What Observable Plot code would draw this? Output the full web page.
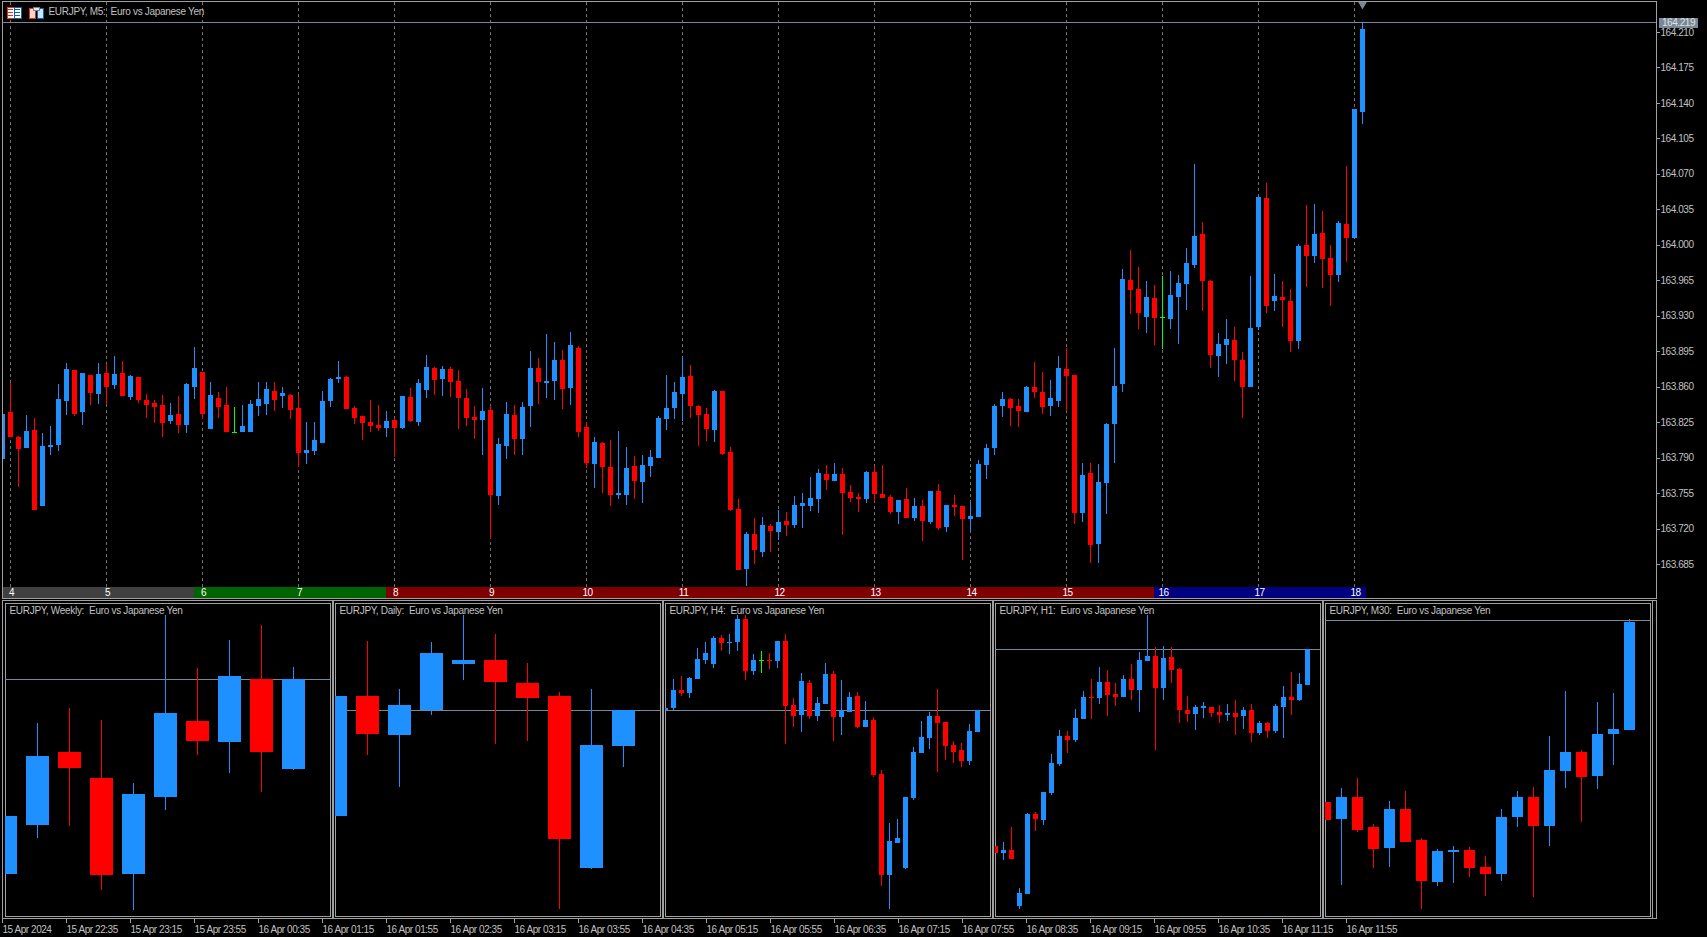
<!DOCTYPE html>
<html><head><meta charset="utf-8">
<script src="https://cdn.jsdelivr.net/npm/d3@7"></script>
<script src="https://cdn.jsdelivr.net/npm/@observablehq/plot@0.6"></script>
<style>
html,body{margin:0;padding:0;background:#000;overflow:hidden}
#root{position:relative;width:1707px;height:937px;background:#000;overflow:hidden}
#root svg.pl{position:absolute;overflow:visible;max-width:none}
.box{position:absolute;box-sizing:border-box;border:1px solid #a0a0a0}
.bar{position:absolute;background:#a0a0a0}
</style></head><body><div id="root"></div>
<script>
// ---- M5 main chart: points (0.001 JPY) above 163.000
const m5Open=[788,834,810,799,817,742,800,802,845,876,
834,871,852,873,861,873,849,869,846,843,
841,826,833,822,859,874,818,848,841,815,
815,815,840,842,855,850,851,838,794,796,
804,845,867,869,838,831,825,822,819,827,
819,849,825,856,878,867,877,865,848,830,
827,836,751,801,832,808,840,878,863,865,
886,858,898,820,783,804,780,752,752,781,
765,781,789,828,838,852,870,840,833,817,
855,795,739,679,714,696,722,716,727,723,
742,742,748,773,766,773,755,750,748,775,
753,750,736,748,730,742,726,756,721,743,
742,729,731,782,799,840,847,840,834,859,
854,840,845,877,871,735,774,704,764,823,
862,965,956,928,947,928,926,948,961,980,
1011,964,890,901,906,886,859,919,1046,944,
948,944,905,1000,989,1012,987,970,1020,1007,1131];
const m5High=[833,863,811,832,829,814,821,862,883,876,
873,871,883,882,890,885,871,869,852,846,
851,843,850,863,899,874,864,854,859,839,
841,846,864,864,864,859,852,851,825,825,
855,868,885,870,840,831,846,841,835,829,
850,858,867,891,879,880,879,876,857,840,
858,840,809,844,841,844,895,888,912,904,
896,914,900,825,810,805,807,816,800,791,
792,797,831,871,864,890,881,841,838,856,
855,800,748,716,730,731,724,738,736,751,
754,770,778,782,784,779,762,754,776,781,
782,752,747,759,749,747,756,763,743,752,
742,745,787,803,842,854,848,847,860,884,
874,866,890,898,871,784,784,783,824,898,
976,995,978,964,960,969,974,970,997,1080,
1022,965,913,926,919,894,969,1047,1061,971,
964,956,1001,1039,1040,1033,1000,1023,1078,1134,1219];
const m5Low=[788,810,760,799,738,742,792,796,832,831,
822,841,842,842,857,850,846,843,829,824,
810,823,814,814,847,828,818,829,815,815,
815,815,831,832,835,838,828,780,783,792,
804,839,863,837,823,807,815,816,810,790,
818,825,821,848,851,850,849,818,821,808,
792,709,743,788,792,792,820,842,848,846,
837,841,810,779,759,754,742,748,743,748,
744,770,789,817,828,826,829,801,806,805,
792,737,678,662,684,691,696,708,712,720,
720,737,735,757,766,713,745,736,744,745,
749,734,724,730,727,707,724,718,716,732,
688,717,731,768,792,830,821,820,834,848,
833,831,839,835,724,726,685,685,734,784,
854,931,917,913,901,897,917,902,935,977,
934,878,869,882,865,829,859,916,932,934,
919,894,897,958,982,957,939,963,983,1007,1119];
const m5Close=[833,810,798,816,738,801,802,847,877,833,
873,853,872,859,872,850,870,846,841,839,
824,832,822,862,878,833,851,839,815,815,
821,842,847,857,846,853,836,794,797,807,
845,867,869,837,829,824,821,819,826,819,
850,826,863,879,866,877,864,848,829,827,
835,752,803,833,808,839,878,864,865,886,
857,901,815,784,805,780,752,754,779,766,
782,790,829,838,854,869,840,832,818,855,
793,738,678,714,698,723,717,726,723,743,
744,749,774,767,773,754,749,748,775,753,
749,736,747,730,742,727,756,720,743,741,
729,732,783,799,840,847,838,835,859,854,
839,848,878,870,735,772,703,765,823,860,
966,955,932,948,927,928,950,962,982,1009,
964,891,902,907,886,859,918,1047,939,949,
945,905,999,989,1011,986,970,1021,1007,1134,1213];
// the M5 read-offs were taken against a price grid about 0.3% too narrow; this rescales them about the bid
const m5GridFactor=0.99717;

const priceTicks=[164.21,164.175,164.14,164.105,164.07,164.035,164,163.965,163.93,163.895,163.86,163.825,163.79,163.755,163.72,163.685];
const bidPrice=164.219;
const dayLabels=["4","5","6","7","8","9","10","11","12","13","14","15","16","17","18"];
const dayBars=[1,13,25,37,49,61,73,85,97,109,121,133,145,157,169];
const sessionStart=[0,24,48,144];
const sessionEnd=[24,48,144,170.5];
const sessionFill=["#404040","#006400","#800000","#000080"];
const timeLabels=["15 Apr 2024","15 Apr 22:35","15 Apr 23:15","15 Apr 23:55","16 Apr 00:35","16 Apr 01:15","16 Apr 01:55","16 Apr 02:35","16 Apr 03:15","16 Apr 03:55","16 Apr 04:35","16 Apr 05:15","16 Apr 05:55","16 Apr 06:35","16 Apr 07:15","16 Apr 07:55","16 Apr 08:35","16 Apr 09:15","16 Apr 09:55","16 Apr 10:35","16 Apr 11:15","16 Apr 11:55"];
const timeBars=[0,8,16,24,32,40,48,56,64,72,80,88,96,104,112,120,128,136,144,152,160,168];

// ---- Weekly (points of 0.001 JPY)
const wOpen=[158370,159840,162030,161250,158370,160680,162960,162330,164220,161520];
const wHigh=[160110,162900,163350,162990,161100,166140,164550,165390,165840,164580];
const wLow=[158370,159450,159810,157890,157290,160290,161940,161400,160830,161490];
const wClose=[160110,161910,161550,158340,160770,163200,162360,164310,162030,164220];
// ---- Daily
const dOpen=[162630,164430,163845,164220,164910,164970,164625,164430,161850,163680];
const dHigh=[164430,165255,164535,165240,165645,165360,164925,164490,164535,164220];
const dLow=[162630,163545,163065,164145,164670,163710,163755,161235,161835,163365];
const dClose=[164430,163860,164295,165075,164970,164640,164400,162285,163695,164220];
// ---- H4
const h4Open=[164220,164244,164460,164424,164592,164820,164772,165084,165024,165036,
165312,164688,164820,164820,164808,165048,164280,164160,164544,164148,
164292,164652,164136,164196,164388,164016,164100,163452,162240,162624,
162324,163164,163704,163884,164148,164076,163800,163740,163608,163956];
const h4High=[164244,164592,164628,164616,164964,165036,165108,165120,165132,165360,
165360,164892,164928,164904,165048,165132,164364,164664,164580,164376,
164784,164688,164580,164436,164436,164328,164136,163500,162864,162912,
163176,163776,164088,164196,164472,164076,163848,163824,164052,164220];
const h4Low=[164220,164220,164388,164364,164592,164772,164724,164928,164892,164928,
164580,164640,164664,164712,164724,163812,164016,163956,164112,164088,
164292,163848,163920,164196,164004,164016,163416,162108,161832,162624,
162312,163140,163704,163752,163476,163620,163584,163536,163560,163956];
const h4Close=[164244,164460,164424,164604,164832,164904,165084,165024,165036,165312,
164688,164820,164820,164808,165048,164268,164148,164568,164148,164304,
164652,164136,164220,164376,164016,164100,163440,162240,162648,162684,
163176,163716,163896,164148,164064,163788,163716,163608,163968,164220];
// ---- H1
const h1Open=[163038,162996,163014,162678,162750,163230,163194,163356,163530,163698,
163674,163800,163932,163926,164022,163950,163932,164040,163974,164148,
164178,163986,164172,164100,163854,163830,163866,163872,163842,163824,
163836,163818,163854,163716,163776,163728,163872,163932,163914,164004];
const h1High=[163038,163062,163152,162786,163236,163242,163362,163590,163734,163728,
163860,163968,164040,164112,164094,164016,164064,164130,164202,164424,
164232,164238,164232,164106,163938,163884,163902,163872,163884,163890,
163914,163872,163890,163788,163782,163890,163998,164082,164076,164220];
const h1Low=[162996,162954,162960,162660,162750,163128,163164,163344,163518,163596,
163662,163800,163800,163890,163818,163878,163932,163914,163842,164148,
163614,163914,164016,163776,163782,163734,163806,163812,163776,163788,
163704,163740,163662,163704,163686,163716,163686,163824,163908,164004];
const h1Close=[162996,163014,162960,162756,163230,163200,163362,163536,163698,163674,
163806,163932,163926,164022,163944,163932,164040,163974,164154,164178,
163986,164166,164094,163854,163830,163872,163878,163836,163824,163836,
163812,163854,163716,163776,163728,163878,163932,163914,164010,164220];
// ---- M30
const m30Open=[163854,163820,163864,163804,163762,163840,163778,163694,163754,163758,163724,163710,163824,163864,163806,163916,163954,163906,163990,163998];
const m30High=[163854,163882,163902,163810,163856,163876,163782,163760,163766,163764,163746,163840,163876,163884,163986,164076,163958,164054,164072,164220];
const m30Low=[163818,163688,163794,163722,163724,163774,163640,163686,163692,163704,163666,163696,163804,163664,163766,163882,163814,163880,163928,163998];
const m30Close=[163818,163864,163798,163760,163840,163774,163696,163756,163758,163722,163710,163824,163864,163806,163918,163954,163904,163990,164000,164214];

const UP="#1e90ff",DOWN="#ff0000",DOJI="#00ff00",BIDC="#778899",TXT="#c0c0c0";
const FONT="'Liberation Sans',Arial,sans-serif";
const FS=10;
const root=document.getElementById("root");
const baseStyle={background:"transparent",fontFamily:FONT,fontSize:FS+"px",color:TXT,letterSpacing:"-0.3px"};
const numStyle={...baseStyle,letterSpacing:"-0.45px"};

function table(o,h,l,c,toPrice){
  return o.map((v,i)=>({i,o:toPrice(v),h:toPrice(h[i]),l:toPrice(l[i]),c:toPrice(c[i]),
    color:c[i]>o[i]?UP:c[i]<o[i]?DOWN:DOJI}));
}
function candleMarks(rows,bodyW,barPx){
  const half=bodyW/2/barPx;
  const common={clip:true,shapeRendering:"crispEdges",stroke:d=>d.color};
  return [
    Plot.ruleX(rows,{...common,x:"i",y1:"l",y2:"h"}),
    Plot.ruleX(rows.filter(d=>d.o!==d.c),{...common,x:"i",y1:"o",y2:"c",strokeWidth:bodyW,strokeLinecap:"butt"}),
    Plot.ruleY(rows.filter(d=>d.o===d.c),{...common,y:"c",x1:d=>d.i-half,x2:d=>d.i+half})
  ];
}
function put(svg,left,top){
  svg.classList.add("pl");
  svg.style.left=left+"px";svg.style.top=top+"px";
  root.appendChild(svg);return svg;
}
function div(cls,l,t,w,h){
  const e=document.createElement("div");e.className=cls;
  e.style.cssText=`left:${l}px;top:${t}px;width:${w}px;height:${h}px`;
  root.appendChild(e);return e;
}

// ---- main chart
const xDomain=[0,1654/8];
const m5=table(m5Open,m5High,m5Low,m5Close,v=>bidPrice+(163+v/1000-bidPrice)*m5GridFactor);
const main=Plot.plot({
  width:1707,height:587,marginLeft:2,marginRight:51,marginTop:2,marginBottom:0,
  style:numStyle,
  color:{type:"identity"},
  x:{domain:xDomain,axis:null},
  y:{domain:[163.663,164.2399],axis:null},
  marks:[
    Plot.ruleX(dayBars,{x:d=>d,stroke:"#707070",strokeDasharray:"3 3",shapeRendering:"crispEdges"}),
    Plot.ruleY([bidPrice],{y:d=>d,dy:-1,stroke:BIDC,shapeRendering:"crispEdges"}),
    ...candleMarks(m5,5,8),
    Plot.axisY(priceTicks,{anchor:"right",tickSize:3,tickPadding:1,dy:-0.5,stroke:"#a0a0a0",fill:TXT,
      tickFormat:d=>d.toFixed(3),fontSize:FS,shapeRendering:"crispEdges",label:null}),
    Plot.dot([170],{x:d=>d,frameAnchor:"top",dy:1.5,symbol:"triangle",r:3.6,rotate:180,fill:BIDC}),
    Plot.text(["EURJPY, M5: \u00a0Euro vs Japanese Yen"],{frameAnchor:"top-left",dx:46,dy:5,lineAnchor:"top",fill:TXT,fontSize:FS})
  ]
});
put(main,0,0);
main.querySelectorAll("text").forEach(t=>{if(t.textContent.startsWith("EURJPY"))t.style.letterSpacing="-0.3px"});

// price tag of the current bid
const tag=document.createElement("div");
tag.textContent=bidPrice.toFixed(3);
tag.style.cssText=`position:absolute;left:1659px;top:${main.scale("y").apply(bidPrice)-5.5}px;width:39px;height:10px;background:${BIDC};color:#e0e0e0;font:${FS}px/10px ${FONT};letter-spacing:-0.45px;text-align:center`;
root.appendChild(tag);

// icons in the header
const icons=document.createElement("div");
icons.style.cssText="position:absolute;left:6px;top:6px;width:40px;height:14px";
icons.innerHTML=`<svg width="40" height="14" shape-rendering="crispEdges" style="display:block">
<rect x="1" y="1" width="7" height="11" fill="#fff" stroke="#e03020"/><rect x="8" y="1" width="7" height="11" fill="#fff" stroke="#1060b0"/>
<rect x="2" y="3" width="5" height="1" fill="#e03020"/><rect x="2" y="6" width="5" height="1" fill="#e03020"/><rect x="2" y="9" width="5" height="1" fill="#e03020"/>
<rect x="9" y="3" width="5" height="1" fill="#1060b0"/><rect x="9" y="6" width="5" height="1" fill="#1060b0"/><rect x="9" y="9" width="5" height="1" fill="#1060b0"/>
<rect x="23" y="2" width="6" height="10" fill="#ffd8d0" stroke="#e03020"/><rect x="31" y="2" width="6" height="10" fill="#c8e8ff" stroke="#1060b0"/>
<rect x="27" y="1" width="6" height="3" fill="#e8e8e8" stroke="#808080"/></svg>`;
root.appendChild(icons);

// session strip under the main chart
const sessions=sessionStart.map((s,j)=>({s,e:sessionEnd[j],fill:sessionFill[j]}));
put(Plot.plot({
  width:1707,height:11,marginLeft:2,marginRight:51,marginTop:0,marginBottom:0,
  style:numStyle,color:{type:"identity"},
  x:{domain:xDomain,axis:null},
  marks:[
    Plot.barX(sessions,{x1:"s",x2:"e",fill:d=>d.fill,shapeRendering:"crispEdges"}),
    Plot.text(dayBars,{x:d=>d,text:(d,j)=>dayLabels[j],fill:"#fff",frameAnchor:"middle",dx:1,fontSize:FS})
  ]
}),0,587);

// frames
div("box",2,1,1655,598);
div("box",2,600,1655,319);
[332,662,992,1322].forEach(x=>div("bar",x,600,2,318));
div("bar",1652,600,1,318);

// ---- lower panels
function panel(left,title,rows,yDomain,barPx,bodyW){
  put(Plot.plot({
    width:326,height:314,marginLeft:0,marginRight:1,marginTop:0,marginBottom:1,
    style:baseStyle,color:{type:"identity"},
    x:{domain:[0,325/barPx],axis:null},
    y:{domain:yDomain,axis:null},
    marks:[
      Plot.frame({stroke:"#a0a0a0",shapeRendering:"crispEdges"}),
      Plot.ruleY([bidPrice],{y:d=>d,stroke:BIDC,shapeRendering:"crispEdges"}),
      ...candleMarks(rows,bodyW,barPx),
      Plot.text([title],{frameAnchor:"top-left",dx:4,dy:3,lineAnchor:"top",fill:TXT,fontSize:FS})
    ]
  }),left,603);
}
const pts=v=>v/1000;
panel(5,"EURJPY, Weekly: \u00a0Euro vs Japanese Yen",table(wOpen,wHigh,wLow,wClose,pts),[157.11,166.50],32,23);
panel(335,"EURJPY, Daily: \u00a0Euro vs Japanese Yen",table(dOpen,dHigh,dLow,dClose,pts),[161.13,165.825],32,23);
panel(665,"EURJPY, H4: \u00a0Euro vs Japanese Yen",table(h4Open,h4High,h4Low,h4Close,pts),[161.748,165.504],8,5);
panel(995,"EURJPY, H1: \u00a0Euro vs Japanese Yen",table(h1Open,h1High,h1Low,h1Close,pts),[162.618,164.496],8,5);
panel(1325,"EURJPY, M30: \u00a0Euro vs Japanese Yen",table(m30Open,m30High,m30Low,m30Close,pts),[163.626,164.252],16,11);

// ---- time axis
put(Plot.plot({
  width:1707,height:19,marginLeft:2,marginRight:51,marginTop:0,marginBottom:18,
  style:numStyle,
  x:{domain:xDomain,axis:null},
  marks:[
    Plot.axisX(timeBars,{anchor:"bottom",tickSize:4,tickPadding:2,textAnchor:"start",stroke:"#a0a0a0",fill:TXT,
      tickFormat:(d,j)=>timeLabels[j],fontSize:FS,shapeRendering:"crispEdges",label:null})
  ]
}),0,918);
</script></body></html>
